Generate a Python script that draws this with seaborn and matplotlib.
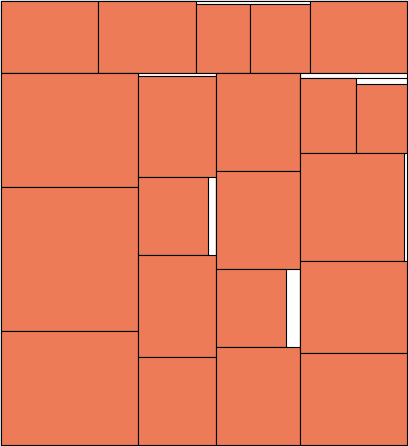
import matplotlib
matplotlib.use("Agg")
import matplotlib.pyplot as plt
import numpy as np
import seaborn as sns

# tile sizes (sizes in plot units, total area 408 x 446)
total_width = 408
total_height = 446

# top strip: one row of tiles
top_height = 73
top_widths = [98, 98, 54, 60, 98]
top_fill = [73, 73, 69.7, 69.7, 73]  # filled height of each tile

# lower part: four columns of stacked tiles
col_widths = [138, 78, 84, 108]
col_gap = [0, 2.3, 0, 4.7]  # unfilled space at top of each column

col1_heights = [114, 144, 115]
col1_fill = [138, 138, 138]
col2_heights = [102, 78, 102, 88.7]
col2_fill = [78, 70.3, 78, 78]
col3_heights = [98.3, 98, 78, 98.7]
col3_fill = [84, 84, 70.7, 84]

# last column starts with a small row of two tiles
col4_row_height = 75.6
col4_row_widths = [56, 52]
col4_row_fill = [75.6, 69.6]
col4_heights = [108, 92, 92.7]
col4_fill = [104.3, 108, 108]

TILE = "#ED7B57"
EDGE = "black"
LW = 0.8


def frame(ax, x, y, w, h):
    ax.bar(x, h, width=w, bottom=y, align="edge", color="white",
           edgecolor=EDGE, linewidth=LW)


def tiles(ax, x, y, w, h):
    ax.bar(x, h, width=w, bottom=y, align="edge", color=TILE,
           edgecolor=EDGE, linewidth=LW)


sns.set_theme(style="white")
fig = plt.figure(figsize=(4.08, 4.46), dpi=100)
ax = fig.add_axes([0, 0, 1, 1])

frame(ax, [0], [0], [total_width], [total_height])

# top strip, tiles hang from the strip bottom
frame(ax, [0], [0], [total_width], [top_height])
top_x = np.concatenate([[0], np.cumsum(top_widths)[:-1]])
top_fill = np.array(top_fill)
tiles(ax, top_x, top_height - top_fill, top_widths, top_fill)

# columns
col_x = np.concatenate([[0], np.cumsum(col_widths)[:-1]])
lower = total_height - top_height
for cx, cw in zip(col_x, col_widths):
    frame(ax, [cx], [top_height], [cw], [lower])

for i, (hs, fs) in enumerate([(col1_heights, col1_fill),
                              (col2_heights, col2_fill),
                              (col3_heights, col3_fill)]):
    y0 = top_height + col_gap[i]
    ys = y0 + np.concatenate([[0], np.cumsum(hs)[:-1]])
    tiles(ax, [col_x[i]] * len(hs), ys, fs, hs)

# column 4: sub row then stack
y0 = top_height + col_gap[3]
frame(ax, [col_x[3]], [y0], [col_widths[3]], [col4_row_height])
row_x = col_x[3] + np.concatenate([[0], np.cumsum(col4_row_widths)[:-1]])
row_fill = np.array(col4_row_fill)
tiles(ax, row_x, y0 + col4_row_height - row_fill, col4_row_widths, row_fill)

y1 = y0 + col4_row_height
ys = y1 + np.concatenate([[0], np.cumsum(col4_heights)[:-1]])
tiles(ax, [col_x[3]] * len(col4_heights), ys, col4_fill, col4_heights)

ax.set_xlim(-0.6, total_width + 0.6)
ax.set_ylim(total_height + 0.6, -0.6)
ax.axis("off")

fig.savefig("out.png", dpi=100)
